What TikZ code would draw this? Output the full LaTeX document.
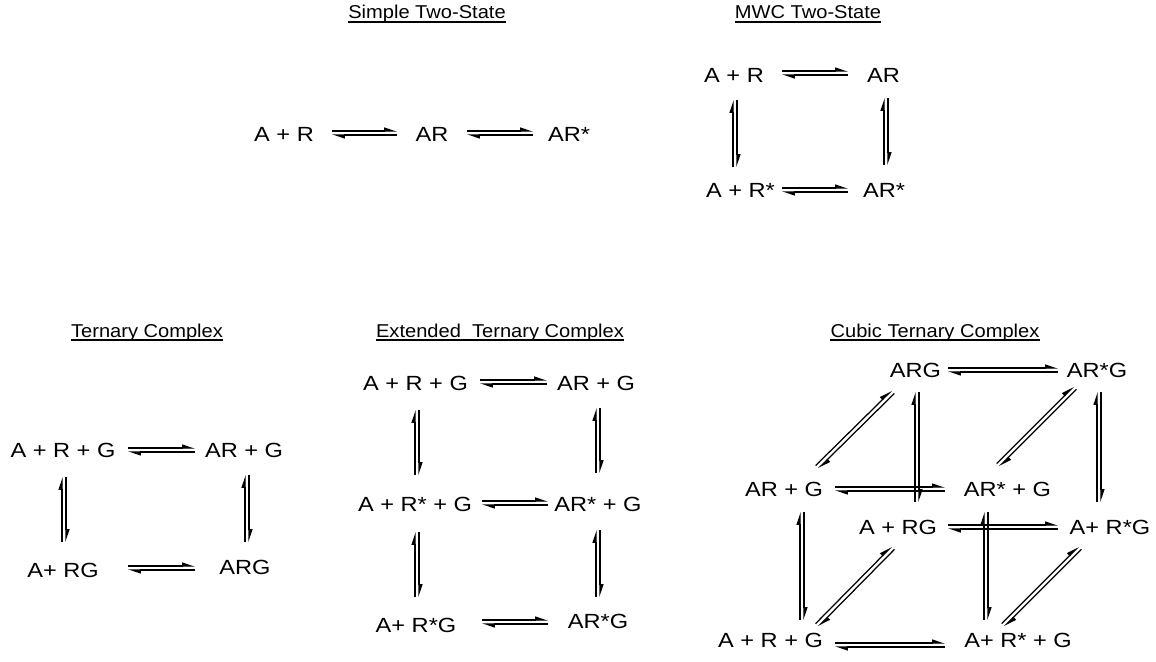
\documentclass[tikz,border=0pt]{standalone}
\usepackage{fontspec}
\setmainfont{Liberation Sans}[FakeStretch=1.15]
\newfontfamily\titlefont{Liberation Sans}[FakeStretch=1.08]
\usetikzlibrary{arrows.meta,calc}
\newcommand\eqarr[2]{%
  \draw[harp] ($(#1)!2pt!90:(#2)$) -- ($(#2)!2pt!-90:(#1)$);
  \draw[harp] ($(#2)!2pt!90:(#1)$) -- ($(#1)!2pt!-90:(#2)$);}
\tikzset{
  sp/.style={inner sep=0pt,anchor=base,font=\fontsize{20.5}{24}\selectfont},
  ttl/.style={inner sep=0pt,anchor=base,font=\titlefont\fontsize{18.6}{22}\selectfont},
  harp/.style={line width=1.25pt,-{Triangle[left,length=11pt,width=7pt]}},
  ul/.style={line width=1.2pt}
}
\newcommand\uline[1]{\draw[ul] ([yshift=-3pt]#1.base west) -- ([yshift=-3pt]#1.base east);}
\begin{document}
\begin{tikzpicture}[x=1pt,y=-1pt]
\useasboundingbox[fill=white] (0,0) rectangle (1156,661);
% titles
\node[ttl] (t1) at (427,19) {Simple Two-State}; \uline{t1}
\node[ttl] (t2) at (808,19) {MWC Two-State}; \uline{t2}
\node[ttl] (t3) at (147,337) {Ternary Complex}; \uline{t3}
\node[ttl] (t4) at (500,337) {Extended\ \ Ternary Complex}; \uline{t4}
\node[ttl] (t5) at (935,337) {Cubic Ternary Complex}; \uline{t5}
% Simple two-state
\node[sp] (s1) at (284,141) {A + R};
\node[sp] (s2) at (432,141) {AR};
\node[sp] (s3) at (569,141) {AR*};
\coordinate (s1a) at (332,133); \coordinate (s1b) at (397,133);
\coordinate (s2a) at (467,133); \coordinate (s2b) at (533,133);
\eqarr{s1a}{s1b} \eqarr{s2a}{s2b}
% MWC
\node[sp] (m1) at (734,82) {A + R};
\node[sp] (m2) at (883.5,82) {AR};
\node[sp] (m3) at (740.5,197) {A + R*};
\node[sp] (m4) at (884,197) {AR*};
\coordinate (m12a) at (782,73); \coordinate (m12b) at (848,73);
\coordinate (m34a) at (782,190); \coordinate (m34b) at (848,190);
\coordinate (m13a) at (735,100); \coordinate (m13b) at (735,167);
\coordinate (m24a) at (886,98); \coordinate (m24b) at (886,165);
\eqarr{m12a}{m12b} \eqarr{m34a}{m34b} \eqarr{m13a}{m13b} \eqarr{m24a}{m24b}
% Ternary
\node[sp] (r1) at (63,457) {A + R + G};
\node[sp] (r2) at (244,457) {AR + G};
\node[sp] (r3) at (63,577) {A+ RG};
\node[sp] (r4) at (245,574) {ARG};
\coordinate (r12a) at (128,450); \coordinate (r12b) at (195,450);
\coordinate (r34a) at (128,568); \coordinate (r34b) at (195,568);
\coordinate (r13a) at (64,477); \coordinate (r13b) at (64,542);
\coordinate (r24a) at (247,475); \coordinate (r24b) at (247,542);
\eqarr{r12a}{r12b} \eqarr{r34a}{r34b} \eqarr{r13a}{r13b} \eqarr{r24a}{r24b}
% Extended
\node[sp] (e1) at (415.5,390) {A + R + G};
\node[sp] (e2) at (596,390) {AR + G};
\node[sp] (e3) at (415,511) {A + R* + G};
\node[sp] (e4) at (598,511) {AR* + G};
\node[sp] (e5) at (416,632) {A+ R*G};
\node[sp] (e6) at (598,628) {AR*G};
\coordinate (e12a) at (480,382); \coordinate (e12b) at (547,382);
\coordinate (e34a) at (482,503); \coordinate (e34b) at (548,503);
\coordinate (e56a) at (482,622); \coordinate (e56b) at (548,622);
\coordinate (e13a) at (417,410); \coordinate (e13b) at (417,475);
\coordinate (e35a) at (417,532); \coordinate (e35b) at (417,597);
\coordinate (e24a) at (598,408); \coordinate (e24b) at (598,473);
\coordinate (e46a) at (598,530); \coordinate (e46b) at (598,597);
\eqarr{e12a}{e12b} \eqarr{e34a}{e34b} \eqarr{e56a}{e56b}
\eqarr{e13a}{e13b} \eqarr{e35a}{e35b} \eqarr{e24a}{e24b} \eqarr{e46a}{e46b}
% Cubic
\node[sp] (c1) at (915.5,377) {ARG};
\node[sp] (c2) at (1097,377) {AR*G};
\node[sp] (c3) at (784,496) {AR + G};
\node[sp] (c4) at (1007.5,496) {AR* + G};
\node[sp] (c5) at (898,534) {A + RG};
\node[sp] (c6) at (1110,534) {A+ R*G};
\node[sp] (c7) at (770.5,647) {A + R + G};
\node[sp] (c8) at (1018,647) {A+ R* + G};
\coordinate (c12a) at (948,370); \coordinate (c12b) at (1058,370);
\coordinate (c34a) at (835,489); \coordinate (c34b) at (945,489);
\coordinate (c56a) at (948,527); \coordinate (c56b) at (1058,527);
\coordinate (c78a) at (835,645); \coordinate (c78b) at (945,645);
\coordinate (c31a) at (817,467); \coordinate (c31b) at (893,392);
\coordinate (c42a) at (998,465); \coordinate (c42b) at (1075,388);
\coordinate (c75a) at (817,625); \coordinate (c75b) at (893,548);
\coordinate (c86a) at (1003,625); \coordinate (c86b) at (1080,548);
\coordinate (c15a) at (917,392); \coordinate (c15b) at (917,502);
\coordinate (c26a) at (1099,392); \coordinate (c26b) at (1099,502);
\coordinate (c37a) at (802,512); \coordinate (c37b) at (802,620);
\coordinate (c48a) at (986,512); \coordinate (c48b) at (986,620);
\eqarr{c12a}{c12b} \eqarr{c34a}{c34b} \eqarr{c56a}{c56b} \eqarr{c78a}{c78b}
\eqarr{c31a}{c31b} \eqarr{c42a}{c42b} \eqarr{c75a}{c75b} \eqarr{c86a}{c86b}
\eqarr{c15a}{c15b} \eqarr{c26a}{c26b} \eqarr{c37a}{c37b} \eqarr{c48a}{c48b}
\end{tikzpicture}
\end{document}
